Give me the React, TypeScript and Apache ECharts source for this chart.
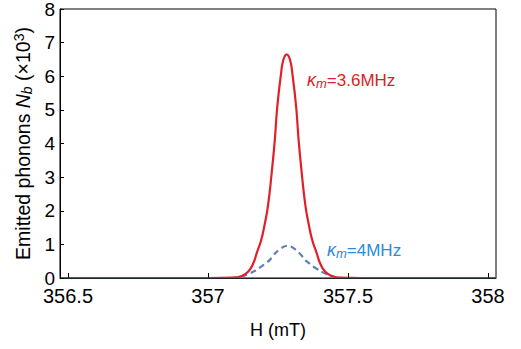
import React, { useEffect, useRef } from "react";
import * as echarts from "echarts";

const xTicks = [356.5, 357, 357.5, 358];

// kappa_m = 3.6 MHz (red, solid): H (mT) and N_b (x10^3)
const redH = [356.4714, 357.0, 357.0904, 357.1204, 357.144, 357.1618, 357.174, 357.19, 357.2025, 357.2143, 357.2275, 357.2386, 357.2475, 357.2611, 357.2693, 357.2811, 357.2929, 357.3011, 357.3147, 357.3236, 357.3347, 357.3479, 357.3597, 357.3722, 357.3882, 357.4004, 357.4182, 357.4418, 357.4718, 357.55, 358.0286];
const redN = [0, 0, 0.01, 0.06, 0.19, 0.44, 0.74, 1.13, 1.6, 2.15, 3.13, 4.11, 5.10, 6.09, 6.49, 6.65, 6.49, 6.09, 5.10, 4.11, 3.13, 2.15, 1.6, 1.13, 0.74, 0.44, 0.19, 0.06, 0.01, 0, 0];

// kappa_m = 4 MHz (blue, dashed)
const blueH = [357.0836, 357.114, 357.1479, 357.1854, 357.2032, 357.2211, 357.23, 357.2525, 357.2836, 357.3147, 357.3372, 357.3461, 357.364, 357.3818, 357.4193, 357.4532, 357.4836];
const blueN = [0, 0.03, 0.13, 0.31, 0.42, 0.54, 0.64, 0.83, 0.96, 0.83, 0.64, 0.54, 0.42, 0.31, 0.13, 0.03, 0];

const FONT = "Liberation Sans, Arial, Helvetica, sans-serif";

export default function App() {
  const ref = useRef<HTMLDivElement>(null);
  useEffect(() => {
    document.body.style.margin = "0";
    const chart = echarts.init(ref.current!, null, { renderer: "svg" });
    const red = redH.map((h, i) => [h, redN[i]]);
    const blue = blueH.map((h, i) => [h, blueN[i]]);
    const kapRich = (c: string) => ({
      k: { fontSize: 18, fontStyle: "italic", fill: c, fontFamily: FONT },
      s: { fontSize: 13, fontStyle: "italic", fill: c, fontFamily: FONT, verticalAlign: "bottom", padding: [7, 0, 0, 0] },
      t: { fontSize: 17, fill: c, fontFamily: FONT },
    });
    chart.setOption({
      animation: false,
      backgroundColor: "#ffffff",
      textStyle: { fontFamily: FONT },
      grid: {
        left: 60,
        right: 25,
        top: 9,
        bottom: 71,
        show: true,
        borderColor: "#000",
        borderWidth: 1,
        containLabel: false,
        outerBoundsMode: "none",
      },
      xAxis: {
        type: "value",
        min: 356.4714,
        max: 358.0286,
        z: 5,
        name: "H (mT)",
        nameLocation: "middle",
        nameGap: 43,
        nameTextStyle: { fontSize: 18, color: "#000", fontFamily: FONT },
        axisLine: { show: true, lineStyle: { color: "#222", width: 1 } },
        axisTick: { show: true, inside: true, length: 5, customValues: xTicks, lineStyle: { color: "#000" } },
        axisLabel: { customValues: xTicks, fontSize: 20, lineHeight: 18, color: "#000", margin: 9, fontFamily: FONT },
        splitLine: { show: false },
      },
      yAxis: {
        type: "value",
        min: 0,
        max: 8,
        interval: 1,
        z: 5,
        name: "{a|Emitted phonons }{i|N}{sb|b}{a| (×10}{sp|3}{a|)}",
        nameLocation: "middle",
        nameRotate: 90,
        nameGap: 24,
        nameTextStyle: {
          color: "#000",
          fontFamily: FONT,
          rich: {
            a: { fontSize: 19.5, color: "#000", fontFamily: FONT },
            i: { fontSize: 19.5, color: "#000", fontStyle: "italic", fontFamily: FONT },
            sb: { fontSize: 14, color: "#000", fontStyle: "italic", fontFamily: FONT, verticalAlign: "bottom", padding: [8, 0, 0, 0] },
            sp: { fontSize: 14, color: "#000", fontFamily: FONT, verticalAlign: "top", padding: [0, 0, 8, 0] },
          },
        },
        axisLine: { show: true, lineStyle: { color: "#000", width: 1 } },
        axisTick: { show: true, inside: true, length: 4, lineStyle: { color: "#000" } },
        axisLabel: { fontSize: 19, lineHeight: 14, color: "#000", margin: 5, fontFamily: FONT },
        splitLine: { show: false },
      },
      series: [
        {
          type: "line",
          data: red,
          showSymbol: false,
          smooth: 0.5,
          lineStyle: { color: "#E0202B", width: 2.2 },
          z: 3,
        },
        {
          type: "line",
          data: blue,
          showSymbol: false,
          smooth: 0.4,
          lineStyle: { color: "#5A7FBA", width: 2.2, type: [6, 4] },
          z: 2,
        },
      ],
      graphic: [
        {
          type: "text",
          left: 307,
          top: 71,
          style: { text: "{k|κ}{s|m}{t|=3.6MHz}", fill: "#D81E28", rich: kapRich("#D81E28") },
        },
        {
          type: "text",
          left: 327,
          top: 241,
          style: { text: "{k|κ}{s|m}{t|=4MHz}", fill: "#2A8BDA", rich: kapRich("#2A8BDA") },
        },
      ],
    });
    return () => chart.dispose();
  }, []);
  return <div ref={ref} style={{ width: 521, height: 349 }} />;
}
